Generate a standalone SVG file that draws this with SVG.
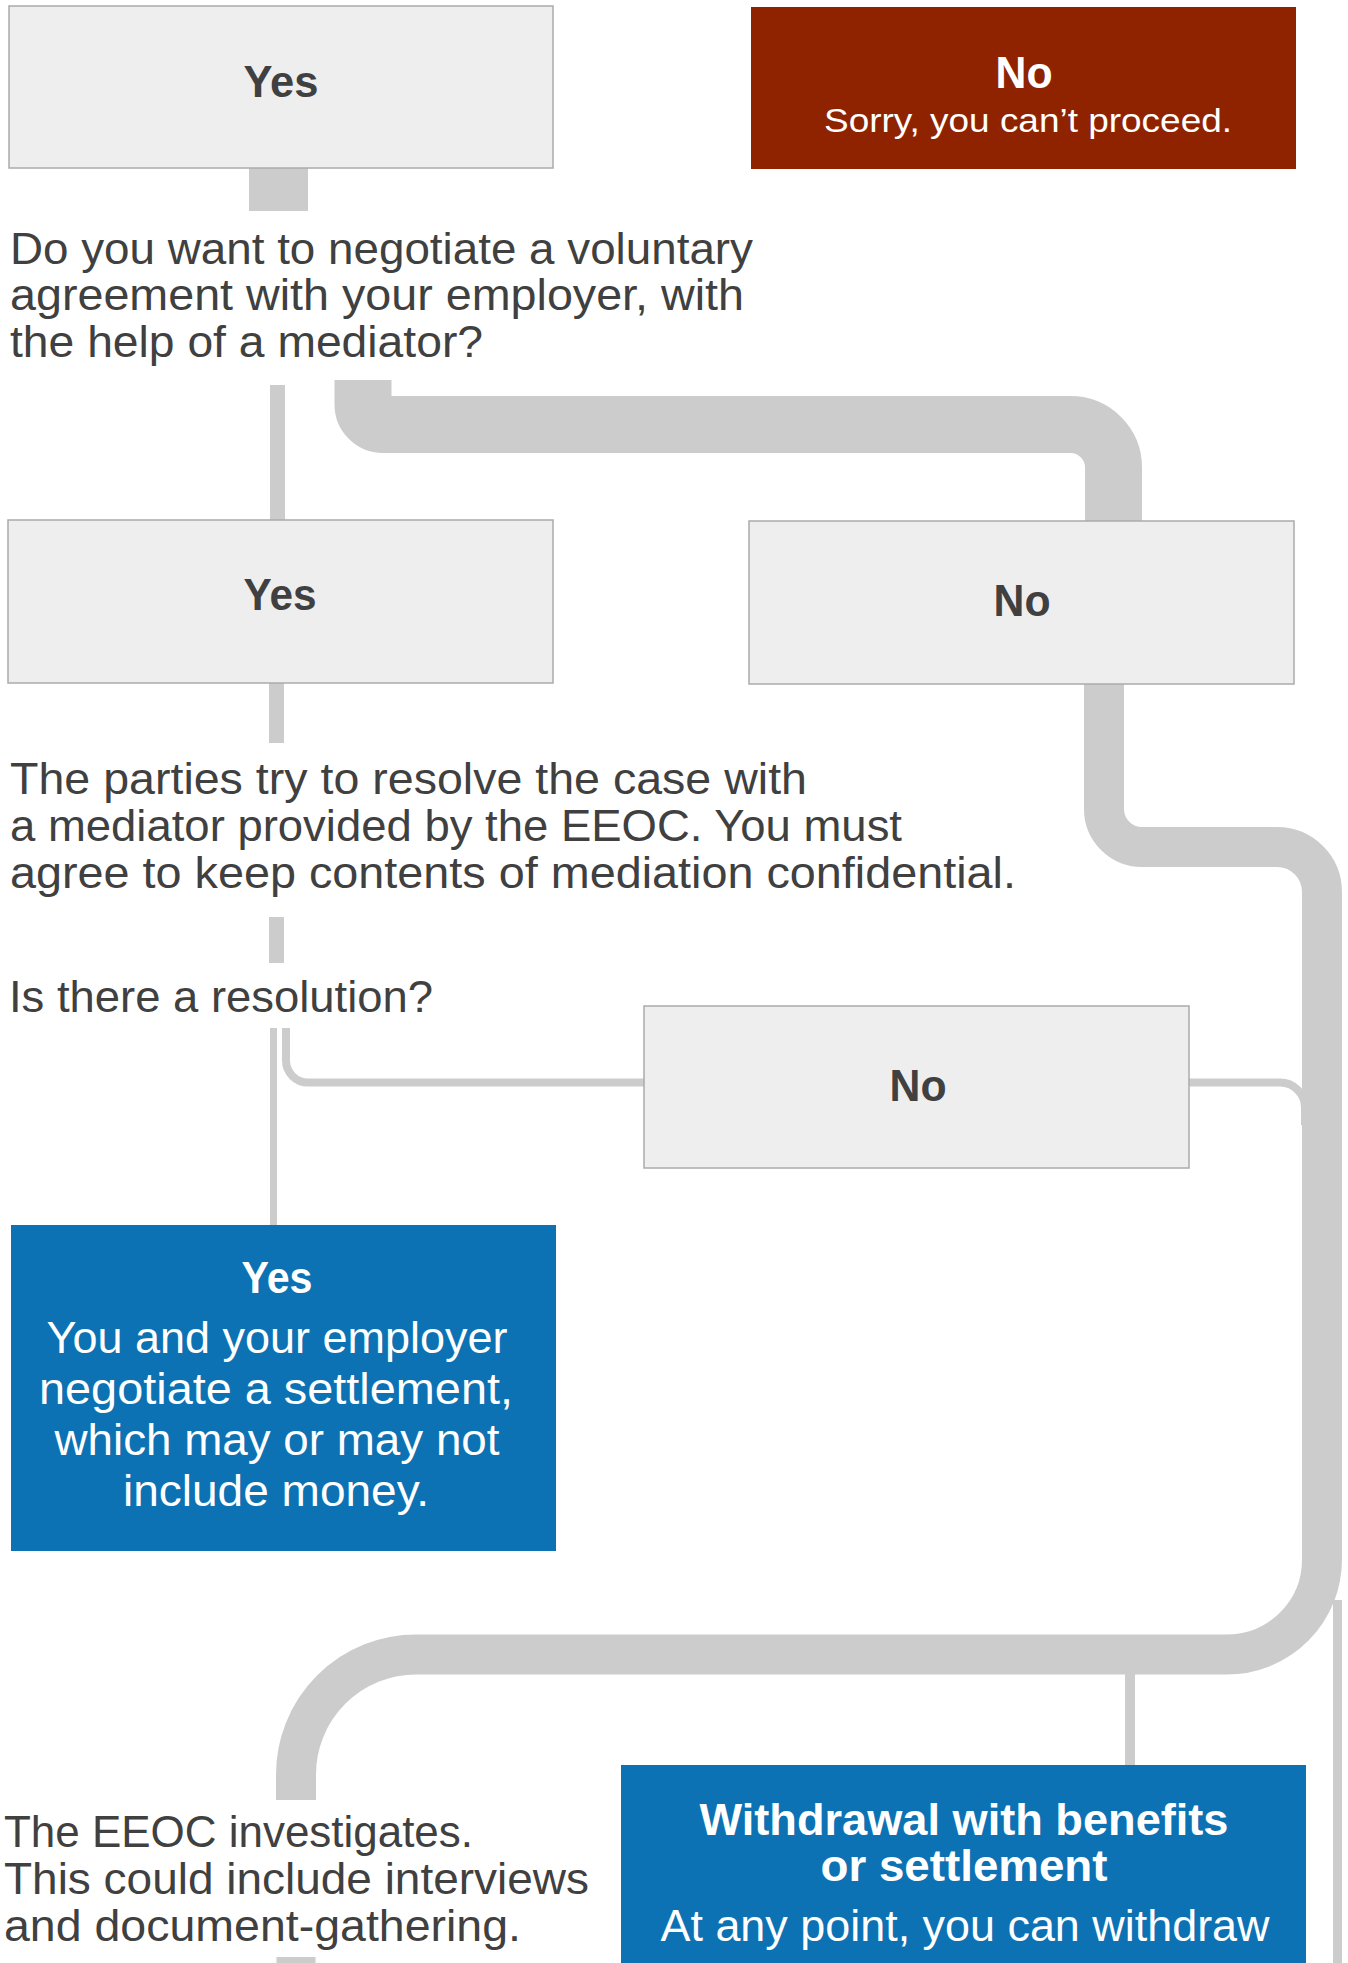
<svg xmlns="http://www.w3.org/2000/svg" width="1348" height="1963" viewBox="0 0 1348 1963">
<style>
.bg{fill:#ffffff}
.box{fill:#eeeeee;stroke:#ababab;stroke-width:1.5}
.red{fill:#8f2300}
.blue{fill:#0c72b4}
.t{font-family:"Liberation Sans",Arial,sans-serif;font-size:44px;fill:#404040}
.b{font-weight:bold}
.w{fill:#ffffff}
.c{text-anchor:middle}
.bar{fill:#cccccc}
.line{fill:none;stroke:#cccccc}
</style>
<rect class="bg" x="0" y="0" width="1348" height="1963"/>
<g id="connectors">
  <rect class="bar" x="249" y="168" width="59" height="43"/>
  <rect class="bar" x="270" y="385" width="15" height="136"/>
  <path class="line" stroke-width="57" d="M363 380 V404.5 A20 20 0 0 0 383 424.5 H1070.5 A43 43 0 0 1 1113.5 467.5 V522"/>
  <rect class="bar" x="269" y="683" width="15" height="60"/>
  <path class="line" stroke-width="40" d="M1104 683 V809 A38 38 0 0 0 1142 847 H1277 A45 45 0 0 1 1322 892 V1559.5 A95 95 0 0 1 1227 1654.5 H416 A120 120 0 0 0 296 1774.5 V1800"/>
  <rect class="bar" x="276.5" y="1957" width="39" height="6"/>
  <rect class="bar" x="269" y="917" width="15" height="46"/>
  <rect class="bar" x="270" y="1028" width="7" height="198"/>
  <path class="line" stroke-width="8" d="M286 1028 V1060.5 A22 22 0 0 0 308 1082.5 H645"/>
  <path class="line" stroke-width="8" d="M1188 1082.5 H1280 A25 25 0 0 1 1305 1107.5 V1125"/>
  <rect class="bar" x="1333" y="1600" width="9" height="363"/>
  <rect class="bar" x="1125" y="1670" width="10" height="96"/>
</g>
<g id="node-yes1">
  <rect class="box" x="9" y="6" width="544" height="162"/>
  <text class="t b c" x="281" y="97" textLength="75" lengthAdjust="spacingAndGlyphs">Yes</text>
</g>
<g id="node-no1">
  <rect class="red" x="751" y="7" width="545" height="162"/>
  <text class="t b c w" x="1024" y="88" textLength="57" lengthAdjust="spacingAndGlyphs">No</text>
  <text class="t c w" x="1028" y="132" style="font-size:34px" textLength="408" lengthAdjust="spacingAndGlyphs">Sorry, you can’t proceed.</text>
</g>
<g id="node-question">
  <text class="t" x="10" y="264" textLength="743" lengthAdjust="spacingAndGlyphs">Do you want to negotiate a voluntary</text>
  <text class="t" x="10" y="310" textLength="734" lengthAdjust="spacingAndGlyphs">agreement with your employer, with</text>
  <text class="t" x="10" y="357" textLength="473" lengthAdjust="spacingAndGlyphs">the help of a mediator?</text>
</g>
<g id="node-yes2">
  <rect class="box" x="8" y="520" width="545" height="163"/>
  <text class="t b c" x="280" y="610" textLength="73" lengthAdjust="spacingAndGlyphs">Yes</text>
</g>
<g id="node-no2">
  <rect class="box" x="749" y="521" width="545" height="163"/>
  <text class="t b c" x="1022" y="616" textLength="57" lengthAdjust="spacingAndGlyphs">No</text>
</g>
<g id="node-mediation">
  <text class="t" x="10" y="794" textLength="797" lengthAdjust="spacingAndGlyphs">The parties try to resolve the case with</text>
  <text class="t" x="10" y="841" textLength="892" lengthAdjust="spacingAndGlyphs">a mediator provided by the EEOC. You must</text>
  <text class="t" x="10" y="888" textLength="1006" lengthAdjust="spacingAndGlyphs">agree to keep contents of mediation confidential.</text>
</g>
<g id="node-resolution">
  <text class="t" x="9" y="1012" textLength="424" lengthAdjust="spacingAndGlyphs">Is there a resolution?</text>
</g>
<g id="node-no3">
  <rect class="box" x="644" y="1006" width="545" height="162"/>
  <text class="t b c" x="918" y="1101" textLength="57" lengthAdjust="spacingAndGlyphs">No</text>
</g>
<g id="node-yes-settlement">
  <rect class="blue" x="11" y="1225" width="545" height="326"/>
  <text class="t b c w" x="277" y="1293" textLength="71" lengthAdjust="spacingAndGlyphs">Yes</text>
  <text class="t c w" x="277" y="1353" textLength="461" lengthAdjust="spacingAndGlyphs">You and your employer</text>
  <text class="t c w" x="276" y="1404" textLength="474" lengthAdjust="spacingAndGlyphs">negotiate a settlement,</text>
  <text class="t c w" x="277" y="1455" textLength="445" lengthAdjust="spacingAndGlyphs">which may or may not</text>
  <text class="t c w" x="276" y="1506" textLength="306" lengthAdjust="spacingAndGlyphs">include money.</text>
</g>
<g id="node-investigates">
  <text class="t" x="4" y="1847" textLength="469" lengthAdjust="spacingAndGlyphs">The EEOC investigates.</text>
  <text class="t" x="4" y="1894" textLength="585" lengthAdjust="spacingAndGlyphs">This could include interviews</text>
  <text class="t" x="4" y="1941" textLength="517" lengthAdjust="spacingAndGlyphs">and document-gathering.</text>
</g>
<g id="node-withdrawal">
  <rect class="blue" x="621" y="1765" width="685" height="200"/>
  <text class="t b c w" x="964" y="1835" textLength="529" lengthAdjust="spacingAndGlyphs">Withdrawal with benefits</text>
  <text class="t b c w" x="964" y="1881" textLength="287" lengthAdjust="spacingAndGlyphs">or settlement</text>
  <text class="t c w" x="965" y="1941" textLength="609" lengthAdjust="spacingAndGlyphs">At any point, you can withdraw</text>
</g>
</svg>
